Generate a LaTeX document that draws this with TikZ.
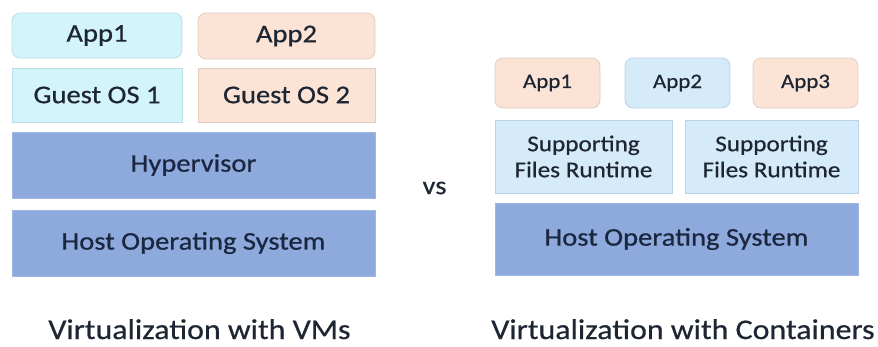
\documentclass[tikz,border=0pt]{standalone}
\usepackage{fontspec}
\setmainfont{Carlito}[FakeStretch=1.12, FakeBold=0.6]
\definecolor{cyanfill}{HTML}{D4F4FB}
\definecolor{cyanedge}{HTML}{BCDDE6}
\definecolor{peachfill}{HTML}{FBE4D5}
\definecolor{peachedge}{HTML}{E2CDC2}
\definecolor{skyfill}{HTML}{D5EBFA}
\definecolor{skyedge}{HTML}{B9D3E6}
\definecolor{layerfill}{HTML}{8EAADC}
\definecolor{layeredge}{HTML}{9FB8E2}
\definecolor{inktext}{HTML}{1F2633}
\definecolor{layertext}{HTML}{1B2740}
\tikzset{
  layerbox/.style={rectangle, inner sep=0pt, line width=0.8pt, text=inktext,
    font=\fontsize{25.5}{28}\selectfont, align=center},
  appbox/.style={layerbox, rounded corners=8pt},
  cyanbox/.style={fill=cyanfill, draw=cyanedge},
  peachbox/.style={fill=peachfill, draw=peachedge},
  skybox/.style={fill=skyfill, draw=skyedge},
  bluebox/.style={fill=layerfill, draw=layeredge, text=layertext},
  smallapp/.style={appbox, font=\fontsize{20.5}{24}\selectfont},
  caption/.style={anchor=base, text=inktext, inner sep=0pt, text depth=0pt,
    font=\fontsize{28.5}{32}\selectfont},
}
\begin{document}
\begin{tikzpicture}[x=1pt, y=-1pt]
\useasboundingbox (0,0) rectangle (878,346);

% virtual machine stack
\node[appbox, cyanbox, minimum width=170pt, minimum height=45pt] (vmapp1) at (97,35.5) {App1};
\node[appbox, peachbox, minimum width=177pt, minimum height=46pt] (vmapp2) at (286.5,36) {App2};
\node[layerbox, cyanbox, minimum width=170pt, minimum height=54pt] (guest1) at (97,95) {Guest OS 1};
\node[layerbox, peachbox, minimum width=177pt, minimum height=54pt] (guest2) at (286.5,95) {Guest OS 2};
\node[layerbox, bluebox, minimum width=363pt, minimum height=66pt] (hyper) at (193.5,165) {Hypervisor};
\node[layerbox, bluebox, minimum width=363pt, minimum height=66pt] (vmhost) at (193.5,243) {Host Operating System};

\node[text=inktext, font=\fontsize{25.5}{28}\selectfont] (vs) at (434.5,188) {vs};

% container stack
\node[smallapp, peachbox, minimum width=105pt, minimum height=50pt] (capp1) at (547.5,83) {App1};
\node[smallapp, skybox, minimum width=105pt, minimum height=50pt] (capp2) at (677.5,83) {App2};
\node[smallapp, peachbox, minimum width=105pt, minimum height=50pt] (capp3) at (805.5,83) {App3};
\node[layerbox, skybox, minimum width=177pt, minimum height=73pt,
  font=\fontsize{22.5}{26}\selectfont] (supp1) at (583.5,156.5) {Supporting\\Files Runtime};
\node[layerbox, skybox, minimum width=173pt, minimum height=73pt,
  font=\fontsize{22.5}{26}\selectfont] (supp2) at (771.5,156.5) {Supporting\\Files Runtime};
\node[layerbox, bluebox, minimum width=363pt, minimum height=72pt] (chost) at (676.5,239) {Host Operating System};

% captions
\node[caption] (vmcap) at (199.5,339) {Virtualization with VMs};
\node[caption] (ccap) at (683,339) {Virtualization with Containers};
\end{tikzpicture}
\end{document}
